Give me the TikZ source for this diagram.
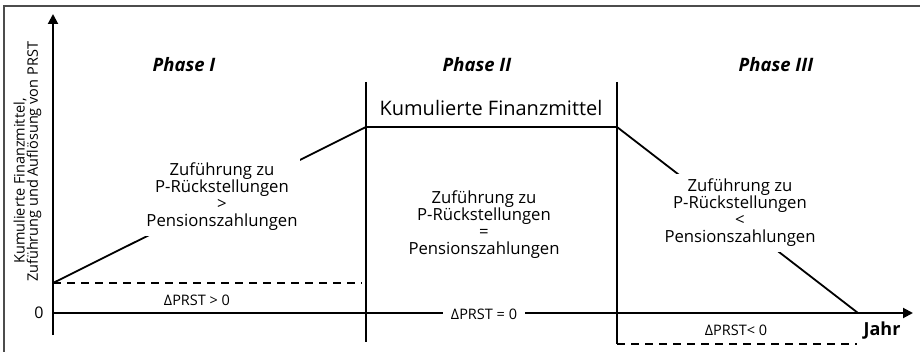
\documentclass[tikz,border=0pt]{standalone}
\usepackage{fontspec}
\setmainfont{Open Sans}
\usetikzlibrary{arrows.meta}
\begin{document}
\begin{tikzpicture}[x=1pt,y=-1pt,
  axis/.style={line width=2pt,-{Triangle[length=10pt,width=10pt]}},
  thin line/.style={line width=1.5pt},
  dash line/.style={line width=1.5pt,dash pattern=on 8pt off 6pt},
  curve/.style={line width=1.8pt},
  blocktext/.style={align=center,font=\fontsize{16.7}{17}\selectfont,fill=white,inner xsep=2pt,inner ysep=5pt},
  phase/.style={font=\fontsize{18.5}{20}\selectfont\bfseries\itshape},
  lbl/.style={font=\fontsize{14.5}{16}\selectfont,inner sep=1pt},
  ylbl/.style={font=\fontsize{14.5}{16}\selectfont,rotate=90,inner sep=0pt}]
\useasboundingbox (0,0) rectangle (920,352);
% frame
\draw[line width=2pt,color=black!70] (4,352) -- (4,6.5) -- (920,6.5);
% coordinates
\coordinate (O) at (53,313);
\coordinate (ybot) at (53,335);
\coordinate (ytop) at (53,14);
\coordinate (xend) at (913,313);
\coordinate (s) at (53,283);
\coordinate (d1) at (362,283);
\coordinate (p1) at (366,127);
\coordinate (p2) at (617,127);
\coordinate (e) at (858,313);
\coordinate (v1t) at (366,82);
\coordinate (v1b) at (366,342);
\coordinate (v2t) at (617,82);
\coordinate (v2b) at (617,344);
\coordinate (d2) at (857,344);
% axes
\draw[axis] (ybot) -- (ytop);
\draw[axis] (O) -- (xend);
% vertical phase separators
\draw[thin line] (v1t) -- (v1b);
\draw[thin line] (v2t) -- (v2b);
% dashed lines
\draw[dash line] (s) -- (d1);
\draw[dash line] (v2b) -- (d2);
% curve
\draw[curve] (s) -- (p1) -- (p2) -- (e);
% labels
\node[lbl,font=\fontsize{16}{18}\selectfont] (zero) at (39,313) {0};
\node[phase] (ph1) at (184,65) {Phase I};
\node[phase] (ph2) at (477,65) {Phase II};
\node[phase] (ph3) at (776,65) {Phase III};
\node[font=\fontsize{20}{22}\selectfont] (kf) at (491,108) {Kumulierte Finanzmittel};
\node[blocktext] (t1) at (222,197) {Zuführung zu\\P-Rückstellungen\\>\\Pensionszahlungen};
\node[blocktext] (t2) at (484,225) {Zuführung zu\\P-Rückstellungen\\=\\Pensionszahlungen};
\node[blocktext] (t3) at (740,213) {Zuführung zu\\P-Rückstellungen\\<\\Pensionszahlungen};
\node[lbl] (dp1) at (197,300) {ΔPRST > 0};
\node[lbl,fill=white,inner xsep=8pt] (dp2) at (484,314) {ΔPRST = 0};
\node[lbl] (dp3) at (736,330) {ΔPRST< 0};
\node[lbl,font=\fontsize{18}{20}\selectfont\bfseries] (jahr) at (882,331) {Jahr};
\node[ylbl] (yl1) at (20,181) {Kumulierte Finanzmittel,};
\node[ylbl] (yl2) at (34,162) {Zuführung und Auflösung von PRST};
\end{tikzpicture}
\end{document}
